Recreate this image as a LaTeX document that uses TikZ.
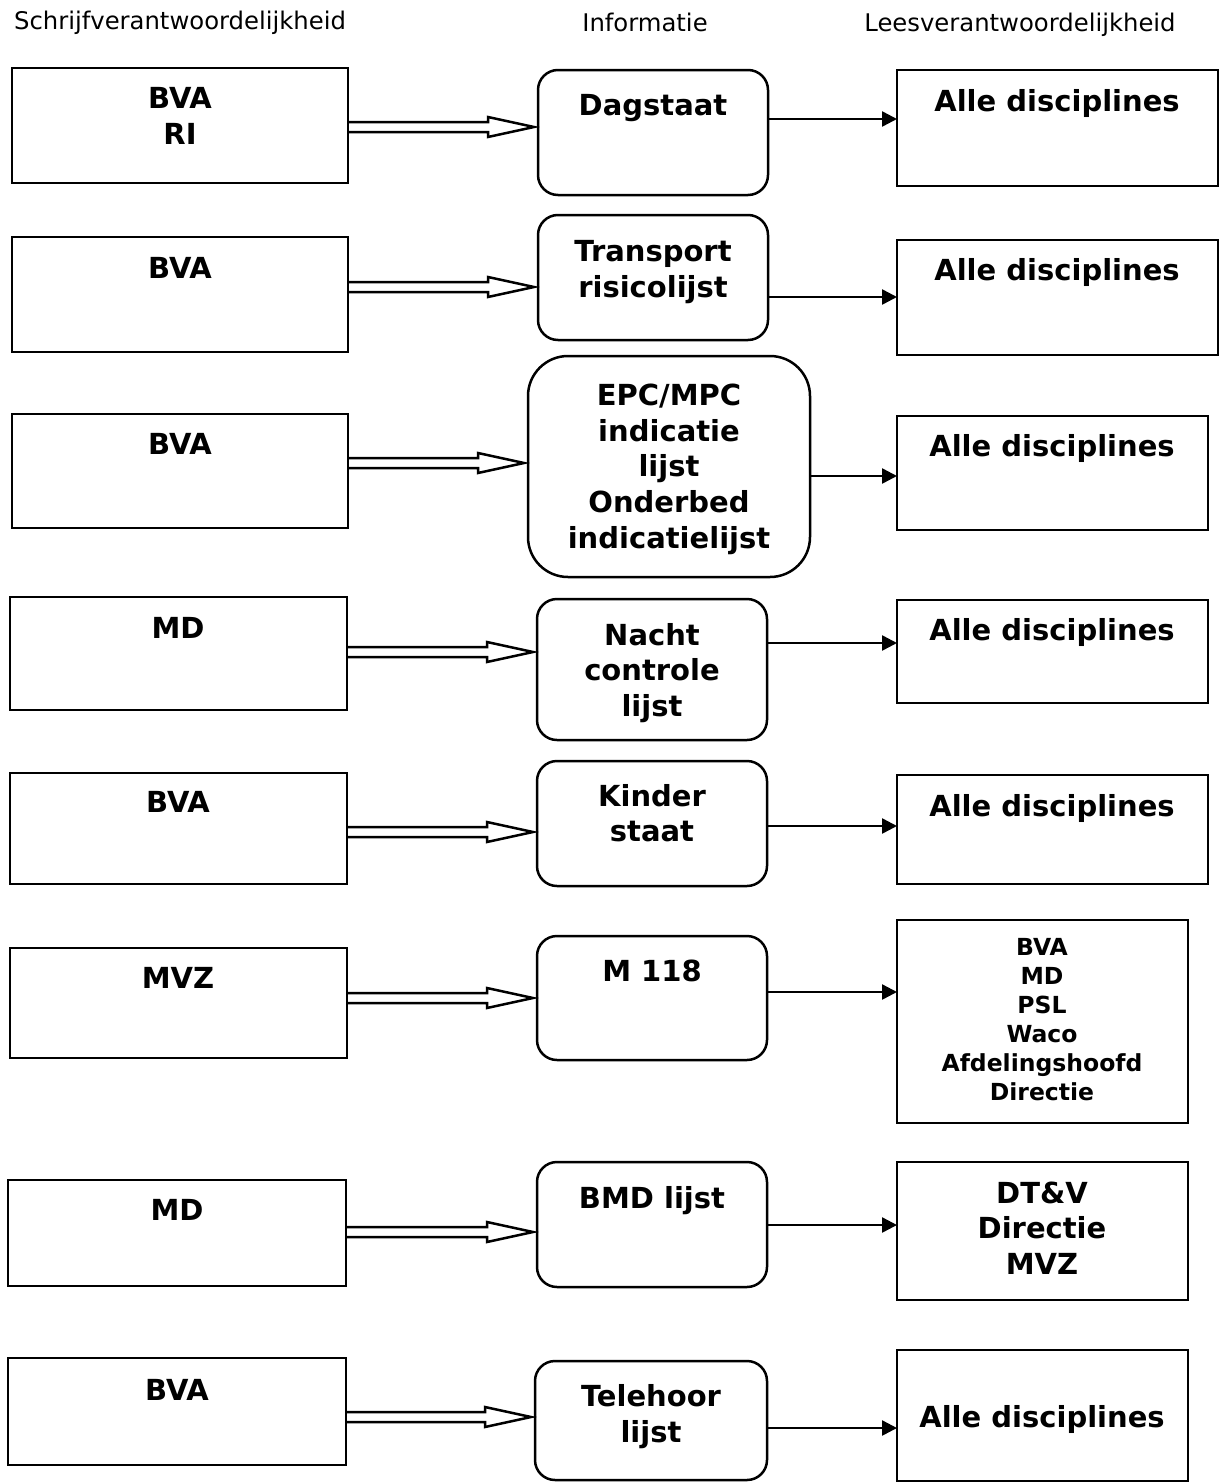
\documentclass[tikz,border=0pt]{standalone}
\usepackage{fontspec}
\setmainfont{DejaVu Sans}
\usetikzlibrary{calc,arrows.meta}
\tikzset{
  box/.style={draw, line width=2.5pt, anchor=north west, inner sep=0pt, outer sep=0pt},
  rbox/.style={box, rounded corners=20pt},
  big/.style={font=\fontsize{29}{35}\selectfont\bfseries, anchor=base, inner sep=0pt},
  small/.style={font=\fontsize{23.5}{29}\selectfont\bfseries, anchor=base, inner sep=0pt},
  head/.style={font=\fontsize{24.3}{29}\selectfont, anchor=base, inner sep=0pt},
  hollowline/.style={draw, line width=2.5pt, line join=miter},
  sarrow/.style={draw, line width=2.5pt, -{Triangle[length=15pt,width=15pt]}}
}
\newcommand\hollowarrow[3]{%
  \draw[hollowline] (#1.east |- 0,#3-5) -- ($(#2.west |- 0,#3)+(-50,-5)$) -- ++(0,-5)
    -- ($(#2.west |- 0,#3)+(-4,0)$) -- ($(#2.west |- 0,#3)+(-50,10)$) -- ++(0,-5) -- (#1.east |- 0,#3+5);}
\begin{document}
\begin{tikzpicture}[x=1pt,y=-1pt]
\path[use as bounding box] (0,0) rectangle (1219,1483);
% headers
\node[head] (h1) at (180,29) {Schrijfverantwoordelijkheid};
\node[head] (h2) at (645,31) {Informatie};
\node[head] (h3) at (1020,31) {Leesverantwoordelijkheid};
% row 1
\node[box, minimum width=336pt, minimum height=115pt] (L1) at (12,68) {};
\node[rbox, minimum width=230pt, minimum height=125pt] (M1) at (538,70) {};
\node[box, minimum width=321pt, minimum height=116pt] (R1) at (897,70) {};
\node[big] (L1a) at (180,108) {BVA};
\node[big] (L1b) at (180,144) {RI};
\node[big] (M1a) at (653,115) {Dagstaat};
\node[big] (R1a) at (1057,111) {Alle disciplines};
\hollowarrow{L1}{M1}{127}
\draw[sarrow] (M1.east |- 0,119) -- (R1.west |- 0,119);
% row 2
\node[box, minimum width=336pt, minimum height=115pt] (L2) at (12,237) {};
\node[rbox, minimum width=230pt, minimum height=125pt] (M2) at (538,215) {};
\node[box, minimum width=321pt, minimum height=115pt] (R2) at (897,240) {};
\node[big] (L2a) at (180,278) {BVA};
\node[big] (M2a) at (653,261) {Transport};
\node[big] (M2b) at (653,297) {risicolijst};
\node[big] (R2a) at (1057,280) {Alle disciplines};
\hollowarrow{L2}{M2}{287}
\draw[sarrow] (M2.east |- 0,297) -- (R2.west |- 0,297);
% row 3
\node[box, minimum width=336pt, minimum height=114pt] (L3) at (12,414) {};
\node[box, rounded corners=40pt, minimum width=282pt, minimum height=221pt] (M3) at (528,356) {};
\node[box, minimum width=311pt, minimum height=114pt] (R3) at (897,416) {};
\node[big] (L3a) at (180,454) {BVA};
\node[big] (M3a) at (669,405) {EPC/MPC};
\node[big] (M3b) at (669,441) {indicatie};
\node[big] (M3c) at (669,476) {lijst};
\node[big] (M3d) at (669,512) {Onderbed};
\node[big] (M3e) at (669,548) {indicatielijst};
\node[big] (R3a) at (1052,456) {Alle disciplines};
\hollowarrow{L3}{M3}{463}
\draw[sarrow] (M3.east |- 0,476) -- (R3.west |- 0,476);
% row 4
\node[box, minimum width=337pt, minimum height=113pt] (L4) at (10,597) {};
\node[rbox, minimum width=230pt, minimum height=141pt] (M4) at (537,599) {};
\node[box, minimum width=311pt, minimum height=103pt] (R4) at (897,600) {};
\node[big] (L4a) at (178,638) {MD};
\node[big] (M4a) at (652,645) {Nacht};
\node[big] (M4b) at (652,680) {controle};
\node[big] (M4c) at (652,716) {lijst};
\node[big] (R4a) at (1052,640) {Alle disciplines};
\hollowarrow{L4}{M4}{652}
\draw[sarrow] (M4.east |- 0,643) -- (R4.west |- 0,643);
% row 5
\node[box, minimum width=337pt, minimum height=111pt] (L5) at (10,773) {};
\node[rbox, minimum width=230pt, minimum height=125pt] (M5) at (537,761) {};
\node[box, minimum width=311pt, minimum height=109pt] (R5) at (897,775) {};
\node[big] (L5a) at (178,812) {BVA};
\node[big] (M5a) at (652,806) {Kinder};
\node[big] (M5b) at (652,841) {staat};
\node[big] (R5a) at (1052,816) {Alle disciplines};
\hollowarrow{L5}{M5}{832}
\draw[sarrow] (M5.east |- 0,826) -- (R5.west |- 0,826);
% row 6
\node[box, minimum width=337pt, minimum height=110pt] (L6) at (10,948) {};
\node[rbox, minimum width=230pt, minimum height=124pt] (M6) at (537,936) {};
\node[box, minimum width=291pt, minimum height=203pt] (R6) at (897,920) {};
\node[big] (L6a) at (178,988) {MVZ};
\node[big] (M6a) at (652,981) {M 118};
\node[small] (R6a) at (1042,955) {BVA};
\node[small] (R6b) at (1042,984) {MD};
\node[small] (R6c) at (1042,1013) {PSL};
\node[small] (R6d) at (1042,1042) {Waco};
\node[small] (R6e) at (1042,1071) {Afdelingshoofd};
\node[small] (R6f) at (1042,1100) {Directie};
\hollowarrow{L6}{M6}{998}
\draw[sarrow] (M6.east |- 0,992) -- (R6.west |- 0,992);
% row 7
\node[box, minimum width=338pt, minimum height=106pt] (L7) at (8,1180) {};
\node[rbox, minimum width=230pt, minimum height=125pt] (M7) at (537,1162) {};
\node[box, minimum width=291pt, minimum height=138pt] (R7) at (897,1162) {};
\node[big] (L7a) at (177,1220) {MD};
\node[big] (M7a) at (652,1208) {BMD lijst};
\node[big] (R7a) at (1042,1203) {DT\&V};
\node[big] (R7b) at (1042,1238) {Directie};
\node[big] (R7c) at (1042,1274) {MVZ};
\hollowarrow{L7}{M7}{1232}
\draw[sarrow] (M7.east |- 0,1225) -- (R7.west |- 0,1225);
% row 8
\node[box, minimum width=338pt, minimum height=107pt] (L8) at (8,1358) {};
\node[rbox, minimum width=232pt, minimum height=119pt] (M8) at (535,1361) {};
\node[box, minimum width=291pt, minimum height=131pt] (R8) at (897,1350) {};
\node[big] (L8a) at (177,1400) {BVA};
\node[big] (M8a) at (651,1406) {Telehoor};
\node[big] (M8b) at (651,1442) {lijst};
\node[big] (R8a) at (1042,1427) {Alle disciplines};
\hollowarrow{L8}{M8}{1417}
\draw[sarrow] (M8.east |- 0,1428) -- (R8.west |- 0,1428);
\end{tikzpicture}
\end{document}
